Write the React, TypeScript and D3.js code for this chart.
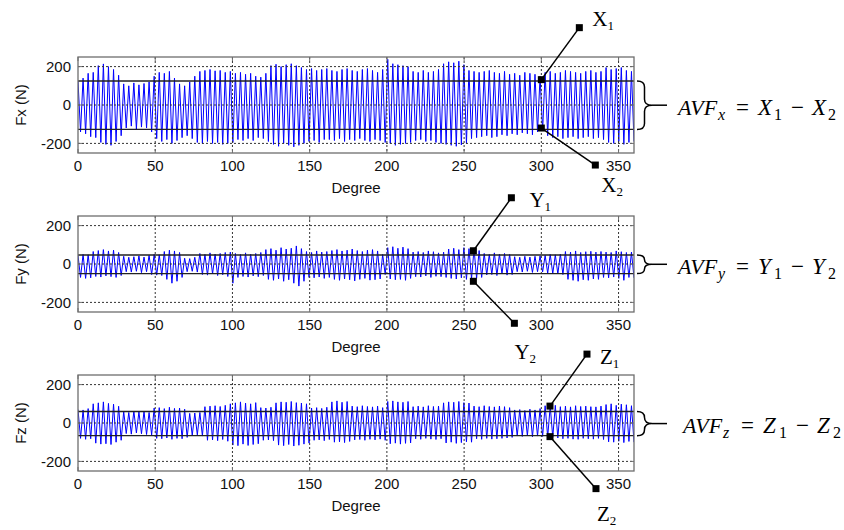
import React from 'react';
import * as d3 from 'd3';

// per-cycle peak / trough values (N)
const FX_MAX = [125,140, 165,170, 205,214,200, 185, 155, 110,100,115,105,112, 120, 150,170,165,175, 140,110,100,120, 150,175,180,185,178,180,170,175, 165,170,160,165, 150,145,165, 205,212,200,210,215,205,195, 185,190,180,185, 190,180,175,185,190,180,175,185,190,180,170,185, 238, 215,210,205,200, 175,170,180,170,175,185, 215,225,220,228,210, 180,175,170,175,180,170,165,175, 160,165,155,170,165,160,150, 170,175,165,170,180,175,170,165,175,180,170,175, 195,185,190,195,180,175];
const FX_MIN = [-140,-150, -165,-170, -195,-205,-210, -190, -160, -120,-110,-125,-115,-120, -140, -175,-190,-180,-200, -185,-170,-160,-175, -195,-200,-190,-200,-195,-205,-200,-195, -180,-185,-175,-185, -170,-175,-190, -205,-215,-200,-210,-218,-210,-200, -190,-185,-195,-180, -180,-185,-175,-190,-180,-185,-175,-185,-190,-180,-185,-195, -200, -210,-205,-200,-195, -185,-180,-190,-185,-195,-200, -205,-210,-215,-208,-200, -175,-170,-165,-160,-170,-165,-155,-160, -150,-155,-145,-150,-155,-140,-135, -160,-170,-165,-175,-170,-165,-175,-170,-165,-175,-170,-180, -195,-200,-190,-205,-195,-190];

const FY_MAX = [45,50,48, 65,70,75,68,72,60, 40,35,38,42,36, 45,50,48, 65,72,68,60, 30,28,35, 55,50,58,52,55,60,62, 55,50,58,52,55,60, 75,80,72,85,78,82,94,80, 65,60,68,62,65, 70,75,68,72,78,70,65,72,75,68, 50, 85,90,82,88,80, 62,65,60,68,64,58,62, 78,82,75,85,80,78,70, 55,50,58,52,55,50, 38,35,40,36,40,42, 45,50,48,52, 65,62,68,60,64,66,62, 65,62,60,68,64,60,62];
const FY_MIN = [-70,-75,-72, -65,-68,-62,-66,-70,-60, -40,-42,-38,-45,-40, -55,-58,-60, -80,-100,-90,-70, -40,-38,-42, -55,-58,-52,-60,-56,-65,-100, -70,-65,-68,-62,-66,-60, -80,-85,-78,-90,-82,-100,-115,-90, -70,-72,-68,-75,-70, -80,-85,-78,-82,-88,-80,-75,-84,-82,-78, -55, -78,-82,-80,-85,-75, -66,-68,-62,-70,-64,-66,-70, -75,-78,-72,-80,-76,-74,-70, -57,-55,-60,-52,-58,-55, -40,-42,-38,-44,-40,-42, -48,-50,-52,-55, -80,-85,-90,-82,-85,-78,-80, -70,-72,-68,-75,-85,-70,-72];

const FZ_MAX = [70,68,75, 100,105,110,102,98, 87, 60,55,62,58,60,55, 78,80,75,82,76,78,72, 50,52,55, 85,88,90,86,92, 100,105,110,104,100,106, 80,78,82, 105,110,108,112,106,104,100, 78,80,76,82, 110,115,108,112, 88,85,90,86,84,88,80, 112,115,110,108,112, 85,88,84,90,86,88, 105,110,108,112,106,104, 88,85,90,86,84,88,85,80, 68,70,65,72,68,75, 90,88,92, 85,88,84,90,86,88,85,84,88, 96,100,92,98,95,90];
const FZ_MIN = [-80,-85,-82, -105,-110,-108,-112,-100, -90, -55,-58,-52,-56,-60,-62, -80,-82,-78,-85,-80,-82,-75, -65,-62,-68, -90,-88,-92,-86,-95, -115,-118,-110,-117,-112,-108, -90,-88,-92, -115,-118,-112,-120,-116,-110,-105, -90,-88,-92,-86, -100,-98,-102,-96, -88,-86,-90,-85,-88,-84,-90, -108,-105,-110,-106,-104, -82,-85,-80,-84,-86,-82, -104,-100,-106,-102,-98,-100, -82,-85,-80,-84,-82,-80,-78,-75, -68,-70,-66,-72,-68,-70, -72,-75,-78, -82,-80,-84,-85,-80,-82,-84,-80,-86, -98,-100,-95,-102,-96,-100];

const X_TICKS = [0, 50, 100, 150, 200, 250, 300, 350];
const Y_TICKS = [-200, 0, 200];

// AVF bands [upper, lower]
const FX_AVF = [125, -127];
const FY_AVF = [47, -50];
const FZ_AVF = [60, -66];

// marker points [degree, upper value, lower value]
const FX_MARK = [300, 132, -120];
const FY_MARK = [256, 69, -90];
const FZ_MARK = [305.6, 88, -71];

const PLOT_L = 78;
const PLOT_R = 634;
const PLOT_H = 96;
const SANS = "'Liberation Sans', Arial, sans-serif";
const SERIF = "'Liberation Serif', 'Times New Roman', serif";

const x = d3.scaleLinear().domain([0, 360]).range([PLOT_L, PLOT_R]);

const Square = ({ cx, cy }) => (
  <rect x={cx - 3.5} y={cy - 3.5} width={7} height={7} fill="#000" />
);

const Panel = ({ id, top, label, maxima, minima, avf, mark, name, hiOff, loOff, hiTxt, loTxt, eqSub, eqX, eqLetter }) => {
  const y = d3.scaleLinear().domain([-250, 250]).range([top + PLOT_H, top]);
  const bottom = top + PLOT_H;

  const n = Math.min(maxima.length, minima.length);
  const step = 360 / (n - 0.5);
  const pts = [];
  for (let i = 0; i < n; i++) {
    pts.push([i * step, maxima[i]]);
    pts.push([(i + 0.5) * step, minima[i]]);
  }
  const line = d3.line().x(d => x(d[0])).y(d => y(d[1]));

  const mx = x(mark[0]);
  const hiY = y(mark[1]);
  const loY = y(mark[2]);
  const hiOut = [mx + hiOff[0], hiY + hiOff[1]];
  const loOut = [mx + loOff[0], loY + loOff[1]];

  // curly brace
  const bx0 = 637, bw = 15;
  const bxm = bx0 + bw / 2, bx1 = bx0 + bw;
  const yT = y(avf[0]), yB = y(avf[1]), yM = (yT + yB) / 2;
  const r = Math.min(6, (yM - yT) / 2);
  const brace = `M${bx0},${yT} Q${bxm},${yT} ${bxm},${yT + r} L${bxm},${yM - r} Q${bxm},${yM} ${bx1},${yM} Q${bxm},${yM} ${bxm},${yM + r} L${bxm},${yB - r} Q${bxm},${yB} ${bx0},${yB}`;

  const eqBase = yM + 9.5;
  const sub = { fontSize: 16 };

  return (
    <g>
      <defs>
        <clipPath id={`clip-${id}`}>
          <rect x={PLOT_L} y={top} width={PLOT_R - PLOT_L} height={PLOT_H} />
        </clipPath>
      </defs>
      <rect x={PLOT_L} y={top} width={PLOT_R - PLOT_L} height={PLOT_H} fill="#fff" />
      <path d={line(pts)} fill="none" stroke="#0000ff" strokeWidth={1} clipPath={`url(#clip-${id})`} />

      {/* grid */}
      {X_TICKS.filter(t => t > 0).map(t => (
        <line key={`gx${t}`} x1={x(t)} x2={x(t)} y1={top} y2={bottom} stroke="#333" strokeWidth={1} strokeDasharray="2,2" />
      ))}
      {Y_TICKS.map(t => (
        <line key={`gy${t}`} x1={PLOT_L} x2={PLOT_R} y1={y(t)} y2={y(t)} stroke="#333" strokeWidth={1} strokeDasharray="2,2" />
      ))}

      {/* AVF lines */}
      {avf.map((v, i) => (
        <line key={`avf${i}`} x1={PLOT_L} x2={PLOT_R} y1={y(v)} y2={y(v)} stroke="#222" strokeWidth={1.3} />
      ))}

      {/* frame + ticks */}
      <rect x={PLOT_L} y={top} width={PLOT_R - PLOT_L} height={PLOT_H} fill="none" stroke="#6e6e6e" strokeWidth={1.3} />
      {X_TICKS.map(t => (
        <g key={`tx${t}`}>
          <line x1={x(t)} x2={x(t)} y1={bottom} y2={bottom - 4} stroke="#6e6e6e" />
          <line x1={x(t)} x2={x(t)} y1={top} y2={top + 4} stroke="#6e6e6e" />
          <text x={x(t)} y={bottom + 13} dy="0.35em" textAnchor="middle" fontFamily={SANS} fontSize={15} fill="#111">{t}</text>
        </g>
      ))}
      {Y_TICKS.map(t => (
        <g key={`ty${t}`}>
          <line x1={PLOT_L} x2={PLOT_L + 4} y1={y(t)} y2={y(t)} stroke="#6e6e6e" />
          <line x1={PLOT_R} x2={PLOT_R - 4} y1={y(t)} y2={y(t)} stroke="#6e6e6e" />
          <text x={71} y={y(t)} dy="0.35em" textAnchor="end" fontFamily={SANS} fontSize={15} fill="#111">{t}</text>
        </g>
      ))}
      <text x={(PLOT_L + PLOT_R) / 2} y={bottom + 35} dy="0.35em" textAnchor="middle" fontFamily={SANS} fontSize={15} fill="#111">Degree</text>
      <text transform={`translate(21,${top + PLOT_H / 2}) rotate(-90)`} dy="0.35em" textAnchor="middle" fontFamily={SANS} fontSize={15} fill="#111">{label}</text>

      {/* markers and leaders */}
      <line x1={mx} y1={hiY} x2={hiOut[0]} y2={hiOut[1]} stroke="#000" strokeWidth={1.5} />
      <line x1={mx} y1={loY} x2={loOut[0]} y2={loOut[1]} stroke="#000" strokeWidth={1.5} />
      <Square cx={mx} cy={hiY} />
      <Square cx={mx} cy={loY} />
      <Square cx={hiOut[0]} cy={hiOut[1]} />
      <Square cx={loOut[0]} cy={loOut[1]} />
      <text x={hiOut[0] + hiTxt[0]} y={hiOut[1] + hiTxt[1]} fontFamily={SERIF} fontSize={21} fill="#000">
        {name}<tspan fontSize={13} dy={4}>1</tspan>
      </text>
      <text x={loOut[0] + loTxt[0]} y={loOut[1] + loTxt[1]} fontFamily={SERIF} fontSize={21} fill="#000">
        {name}<tspan fontSize={13} dy={4}>2</tspan>
      </text>

      {/* brace and equation */}
      <path d={brace} fill="none" stroke="#000" strokeWidth={1.5} />
      <line x1={bx1} x2={bx1 + 15} y1={yM} y2={yM} stroke="#000" strokeWidth={1.5} />
      <g fontFamily={SERIF} fontStyle="italic" fontSize={23} fill="#000">
        <text x={eqX} y={eqBase} fontSize={22}>AVF</text>
        <text x={eqX + 40} y={eqBase + 5} style={sub}>{eqSub}</text>
        <text x={eqX + 58} y={eqBase} fontStyle="normal">=</text>
        <text x={eqX + 80} y={eqBase}>{eqLetter}</text>
        <text x={eqX + 96} y={eqBase + 5} style={sub} fontStyle="normal">1</text>
        <text x={eqX + 113} y={eqBase} fontStyle="normal">−</text>
        <text x={eqX + 134} y={eqBase}>{eqLetter}</text>
        <text x={eqX + 150} y={eqBase + 5} style={sub} fontStyle="normal">2</text>
      </g>
    </g>
  );
};

export default function App() {
  return (
    <div style={{ position: 'fixed', left: 0, top: 0, width: 844, height: 530, background: '#fff' }}>
      <svg width={844} height={530} style={{ display: 'block' }}>
        <Panel id="fx" top={57} label="Fx (N)" maxima={FX_MAX} minima={FX_MIN} avf={FX_AVF} mark={FX_MARK}
          name="X" hiOff={[38, -52]} loOff={[54, 37]} hiTxt={[13, -2]} loTxt={[6, 27]} eqSub="x" eqX={678} eqLetter="X" />
        <Panel id="fy" top={216} label="Fy (N)" maxima={FY_MAX} minima={FY_MIN} avf={FY_AVF} mark={FY_MARK}
          name="Y" hiOff={[38, -53]} loOff={[41, 42]} hiTxt={[18, 9]} loTxt={[0, 36]} eqSub="y" eqX={678} eqLetter="Y" />
        <Panel id="fz" top={375} label="Fz (N)" maxima={FZ_MAX} minima={FZ_MIN} avf={FZ_AVF} mark={FZ_MARK}
          name="Z" hiOff={[37, -52]} loOff={[46, 52]} hiTxt={[13, 10]} loTxt={[1, 32]} eqSub="z" eqX={683} eqLetter="Z" />
      </svg>
    </div>
  );
}
